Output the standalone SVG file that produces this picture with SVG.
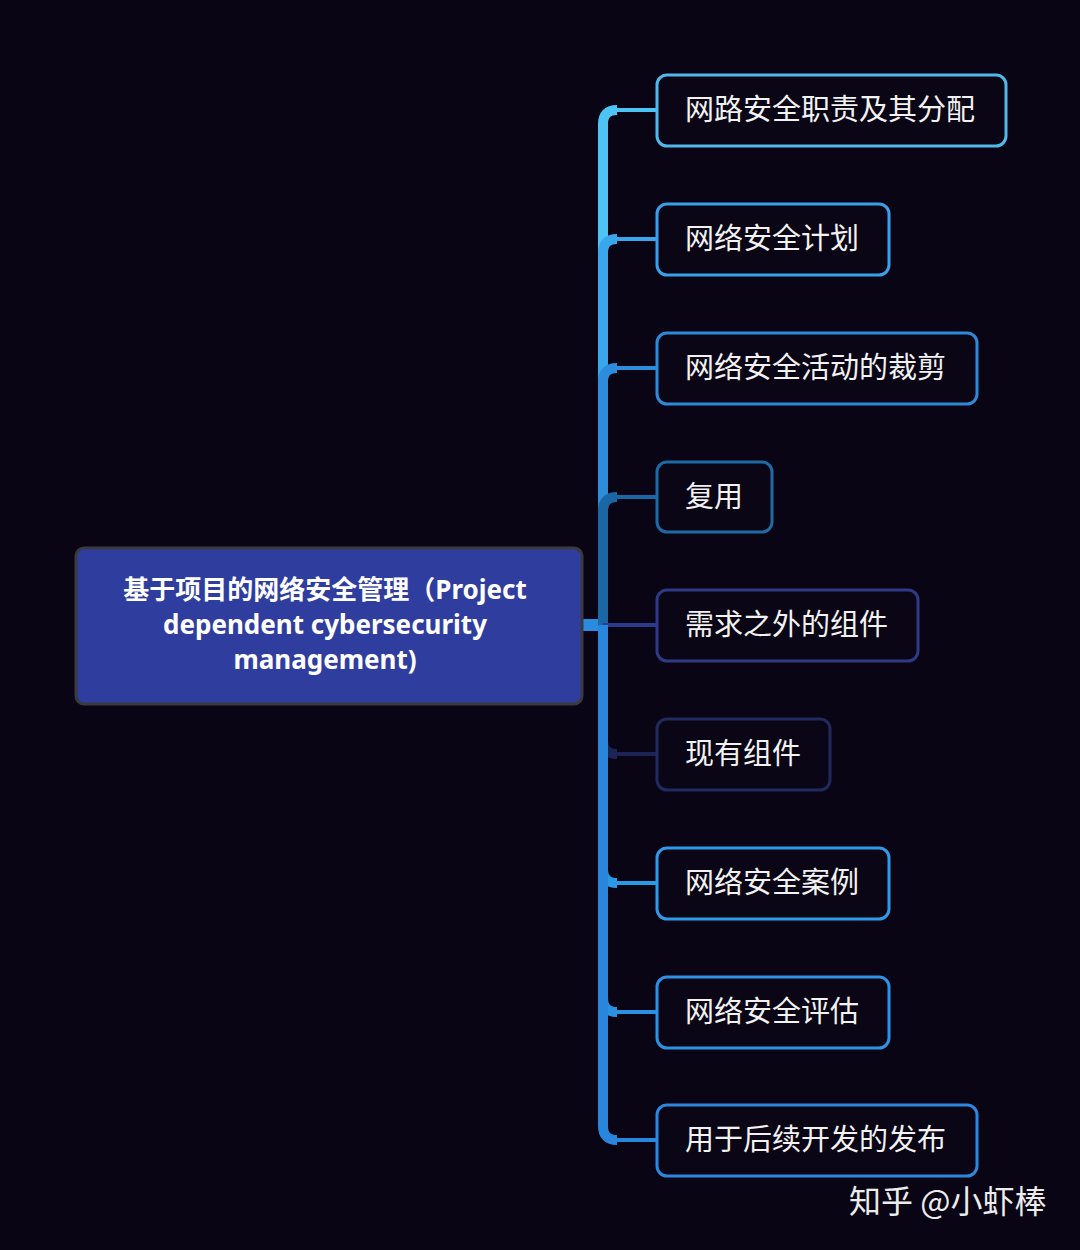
<svg xmlns="http://www.w3.org/2000/svg" width="1080" height="1250" viewBox="0 0 1080 1250">
<style>
.bg{fill:#0a0514}
.node rect{fill:#0a0616;stroke-width:3}
.node text{font-family:"Noto Sans CJK SC","Noto Sans",sans-serif;font-size:29px;fill:#f2f2f2}
.v{fill:none;stroke-width:10;stroke-linecap:butt}
.h{fill:none;stroke-width:4}
.root text{font-family:"Noto Sans","Noto Sans CJK SC",sans-serif;font-size:26px;font-weight:bold;fill:#ffffff;text-anchor:middle}
.wm{font-family:"Noto Sans CJK SC",sans-serif;font-size:32px;fill:#ececec}
</style>
<rect class="bg" x="0" y="0" width="1080" height="1250"/>
<g id="connectors">
  <rect x="580" y="619" width="24" height="12" fill="#2a8be0"/>
  <path class="v" stroke="#4ec3f5" d="M603 625 V124 Q603 110 617 110"/>
  <path class="h" stroke="#4ec3f5" d="M615 110 H658"/>
  <path class="v" stroke="#39a6ee" d="M603 625 V253 Q603 239 617 239"/>
  <path class="h" stroke="#39a6ee" d="M615 239 H658"/>
  <path class="v" stroke="#2b8ddc" d="M603 625 V382 Q603 368 617 368"/>
  <path class="h" stroke="#2b8ddc" d="M615 368 H658"/>
  <path class="v" stroke="#1a67a6" d="M603 625 V511 Q603 497 617 497"/>
  <path class="h" stroke="#1a67a6" d="M615 497 H658"/>
  <path class="h" stroke="#2b3a8c" d="M603 625 H658"/>
  <path class="v" stroke="#1c2456" d="M603 625 V740 Q603 754 617 754"/>
  <path class="h" stroke="#1c2456" d="M615 754 H658"/>
  <path class="v" stroke="#2a9ae6" d="M603 625 V869 Q603 883 617 883"/>
  <path class="h" stroke="#2a9ae6" d="M615 883 H658"/>
  <path class="v" stroke="#2a90e2" d="M603 625 V998 Q603 1012 617 1012"/>
  <path class="h" stroke="#2a90e2" d="M615 1012 H658"/>
  <path class="v" stroke="#2886dc" d="M603 625 V1126 Q603 1140 617 1140"/>
  <path class="h" stroke="#2886dc" d="M615 1140 H658"/>
</g>
<g id="root" class="root">
  <rect x="76" y="548" width="506" height="156" rx="8" fill="#2f3d9e" stroke="#3a3a40" stroke-width="3"/>
  <text x="325" y="599">基于项目的网络安全管理（Project</text>
  <text x="325" y="634">dependent cybersecurity</text>
  <text x="325" y="669">management)</text>
</g>
<g id="n1" class="node"><rect x="657" y="75" width="349" height="71" rx="10" stroke="#52b8ea"/><text x="685" y="120">网路安全职责及其分配</text></g>
<g id="n2" class="node"><rect x="657" y="204" width="232" height="71" rx="10" stroke="#3aa0e8"/><text x="685" y="249">网络安全计划</text></g>
<g id="n3" class="node"><rect x="657" y="333" width="320" height="71" rx="10" stroke="#2d8ad8"/><text x="685" y="378">网络安全活动的裁剪</text></g>
<g id="n4" class="node"><rect x="657" y="462" width="115" height="70" rx="10" stroke="#1e6aa5"/><text x="685" y="507">复用</text></g>
<g id="n5" class="node"><rect x="657" y="590" width="261" height="71" rx="10" stroke="#2e3a85"/><text x="685" y="635">需求之外的组件</text></g>
<g id="n6" class="node"><rect x="657" y="719" width="173" height="71" rx="10" stroke="#202a5e"/><text x="685" y="764">现有组件</text></g>
<g id="n7" class="node"><rect x="657" y="848" width="232" height="71" rx="10" stroke="#2f9be8"/><text x="685" y="893">网络安全案例</text></g>
<g id="n8" class="node"><rect x="657" y="977" width="232" height="71" rx="10" stroke="#2d92e4"/><text x="685" y="1022">网络安全评估</text></g>
<g id="n9" class="node"><rect x="657" y="1105" width="320" height="71" rx="10" stroke="#2b88de"/><text x="685" y="1150">用于后续开发的发布</text></g>
<text class="wm" x="849" y="1213">知乎 @小虾棒</text>
</svg>
